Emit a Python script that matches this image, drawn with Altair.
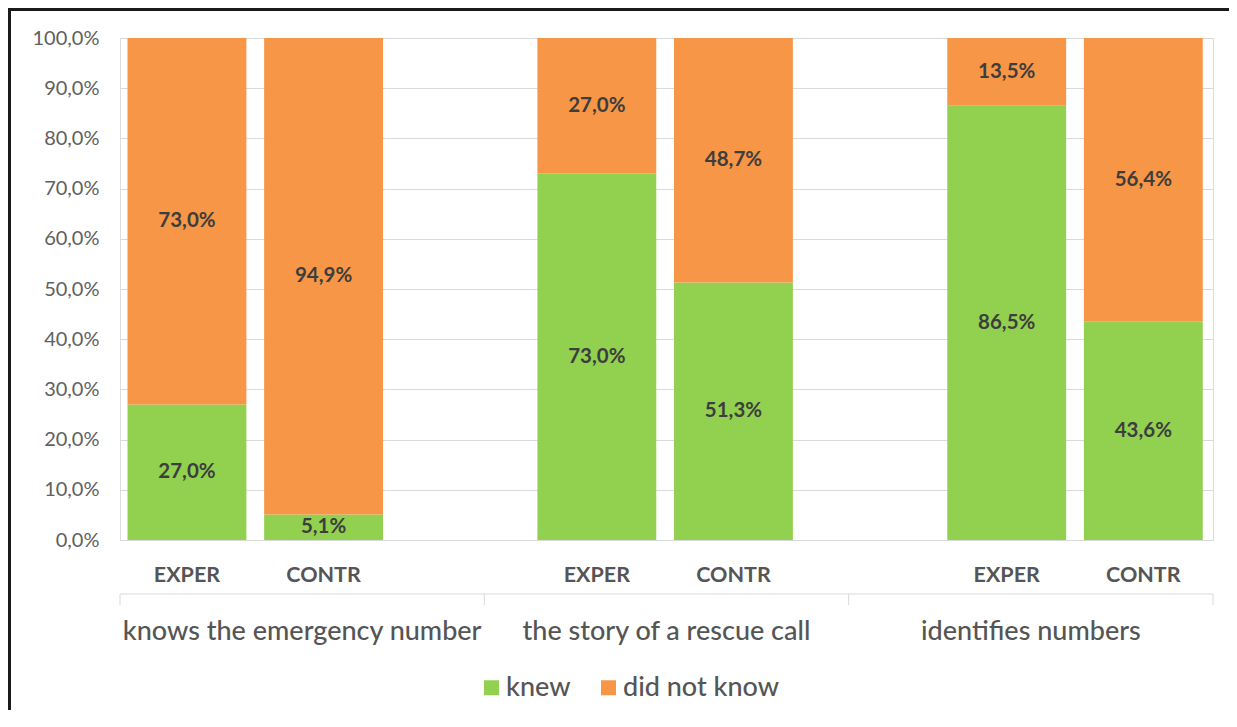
import altair as alt
import pandas as pd

groups = ["knows the emergency number", "the story of a rescue call", "identifies numbers"]
subgroups = ["EXPER", "CONTR"]
knew = [27.0, 5.1, 73.0, 51.3, 86.5, 43.6]
did_not_know = [73.0, 94.9, 27.0, 48.7, 13.5, 56.4]
series = ["knew", "did not know"]
colors = ["#92D050", "#F79646"]
y_ticks = [0, 10, 20, 30, 40, 50, 60, 70, 80, 90, 100]

W, H = 1093, 502
FONT = "Lato"
GRAY = "#555555"

def fmt(v):
    return f"{v:.1f}".replace(".", ",") + "%"

rows = []
sub_rows = []
for gi, g in enumerate(groups):
    for si, s in enumerate(subgroups):
        idx = gi * 2 + si
        slot = gi * 3 + si + 0.49
        sub_rows.append({"xc": slot, "label": s})
        k = knew[idx]
        d = did_not_know[idx]
        rows.append({"group": g, "sub": s, "series": series[0], "x0": slot - 0.435, "x1": slot + 0.435,
                     "xc": slot, "y0": 0.0, "y1": k, "ym": k / 2, "label": fmt(k)})
        rows.append({"group": g, "sub": s, "series": series[1], "x0": slot - 0.435, "x1": slot + 0.435,
                     "xc": slot, "y0": k, "y1": k + d, "ym": k + d / 2, "label": fmt(d)})
df = pd.DataFrame(rows)
sub_df = pd.DataFrame(sub_rows)
n_slots = 3 * len(groups) - 1
grp_df = pd.DataFrame({"group": groups,
                       "xc": [(i + 0.5) * n_slots / len(groups) for i in range(len(groups))]})
sep_df = pd.DataFrame({"xs": [i * n_slots / len(groups) for i in range(len(groups) + 1)]})
one = pd.DataFrame({"a": [0]})

xscale = alt.Scale(domain=[0, n_slots], nice=False, zero=False)
yscale = alt.Scale(domain=[0, 100], nice=False)

bars = alt.Chart(df).mark_bar().encode(
    x=alt.X("x0:Q", scale=xscale, axis=None),
    x2="x1:Q",
    y=alt.Y("y0:Q", scale=yscale, title=None,
            axis=alt.Axis(values=y_ticks, grid=True, gridColor="#d9d9d9", domain=False, ticks=False,
                          labelExpr="replace(format(datum.value, '.1f'), '.', ',') + '%'",
                          labelFont=FONT, labelFontSize=20, labelColor="#606060", labelPadding=21)),
    y2="y1:Q",
    color=alt.Color("series:N", scale=alt.Scale(domain=series, range=colors), sort=series,
                    legend=alt.Legend(title=None, orient="none", direction="horizontal",
                                      legendX=358, legendY=636, symbolType="square", symbolSize=225,
                                      symbolStrokeWidth=0, labelFont=FONT, labelFontSize=27,
                                      labelFontWeight=500,
                                      labelColor=GRAY, labelOffset=1, columnPadding=24, padding=0)),
)

labels = alt.Chart(df).mark_text(font=FONT, fontSize=20.5, fontWeight="bold", color="#3d3d3d",
                                 baseline="middle").encode(
    x=alt.X("xc:Q", scale=xscale), y=alt.Y("ym:Q", scale=yscale), text="label:N")

sublabels = alt.Chart(sub_df).mark_text(font=FONT, fontSize=21.5, fontWeight="bold", color=GRAY,
                                        baseline="middle").encode(
    x=alt.X("xc:Q", scale=xscale), y=alt.value(H + 36), text="label:N")

sep_line = alt.Chart(one).mark_rule(color="#d9d9d9", strokeWidth=1).encode(
    x=alt.value(0), x2=alt.value(W), y=alt.value(H + 54))
sep_ticks = alt.Chart(sep_df).mark_rule(color="#d9d9d9", strokeWidth=1).encode(
    x=alt.X("xs:Q", scale=xscale), y=alt.value(H + 54), y2=alt.value(H + 65))

grplabels = alt.Chart(grp_df).mark_text(font=FONT, fontSize=27, fontWeight=500, color=GRAY,
                                        baseline="middle").encode(
    x=alt.X("xc:Q", scale=xscale), y=alt.value(H + 92), text="group:N")

border_left = alt.Chart(one).mark_rule(color="#1a1a1a", strokeWidth=3).encode(
    x=alt.value(-110.5), y=alt.value(-30), y2=alt.value(H + 180))
border_top = alt.Chart(one).mark_rule(color="#1a1a1a", strokeWidth=3).encode(
    x=alt.value(-112), x2=alt.value(W + 20), y=alt.value(-28.5))

chart = alt.layer(bars, labels, sublabels, sep_line, sep_ticks, grplabels, border_left, border_top).properties(
    width=W, height=H,
    autosize=alt.AutoSizeParams(type="none"),
    padding={"left": 112, "top": 30, "right": 16, "bottom": 170},
).configure_view(stroke=None).configure(background="white")

chart.save("out.html", embed_options={"renderer": "svg", "actions": False})
